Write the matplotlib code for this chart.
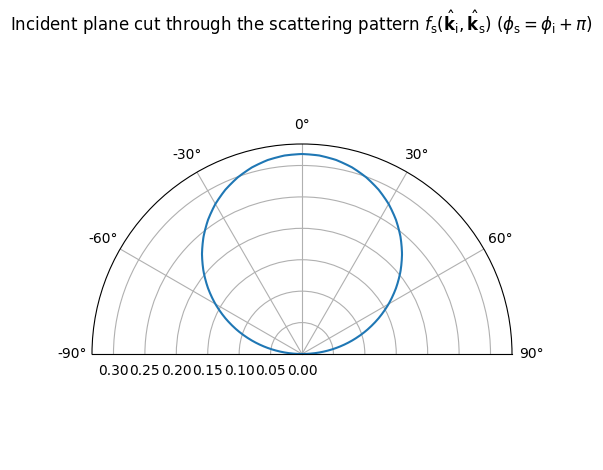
import numpy as np
import matplotlib
matplotlib.use("Agg")
import matplotlib.pyplot as plt

# Scattering angle (degrees) and pattern value
theta_deg = [-90, -85, -80, -75, -70, -65, -60, -55, -50, -45, -40, -35, -30, -25, -20, -15, -10, -5,
             0, 5, 10, 15, 20, 25, 30, 35, 40, 45, 50, 55, 60, 65, 70, 75, 80, 85, 90]
r_values = [0.000, 0.0277, 0.0553, 0.0824, 0.1089, 0.1345, 0.1592, 0.1826, 0.2046, 0.2251,
            0.2438, 0.2607, 0.2757, 0.2885, 0.2991, 0.3075, 0.3135, 0.3171,
            0.3183,
            0.3171, 0.3135, 0.3075, 0.2991, 0.2885, 0.2757, 0.2607, 0.2438, 0.2251, 0.2046,
            0.1826, 0.1592, 0.1345, 0.1089, 0.0824, 0.0553, 0.0277, 0.000]
theta_ticks = [-90, -60, -30, 0, 30, 60, 90]

fig = plt.figure(figsize=(6.03, 4.70), dpi=100)
ax = fig.add_axes([92/603, 11/470, 420/603, 420/470], projection='polar')
line, = ax.plot(np.deg2rad(theta_deg), r_values, color='tab:blue')
# let the polar transform draw each segment as a curve in (theta, r)
line.get_path()._interpolation_steps = 20
ax.set_theta_zero_location('N')
ax.set_theta_direction(-1)
ax.set_thetamin(-90)
ax.set_thetamax(90)
ax.set_thetagrids(theta_ticks, [f"{t}°" for t in theta_ticks])
ax.set_rlim(0, 0.3342)
ax.set_title(r"Incident plane cut through the scattering pattern "
             r"$f_\mathrm{s}(\hat{\mathbf{k}}_\mathrm{i}, \hat{\mathbf{k}}_\mathrm{s})$ "
             r"$(\phi_\mathrm{s} = \phi_\mathrm{i} + \pi)$")
fig.savefig("out.png", dpi=100)
